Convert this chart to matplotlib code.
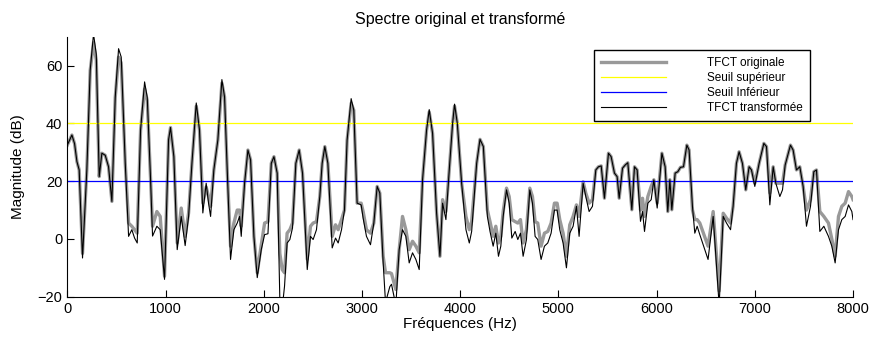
import numpy as np
import matplotlib
matplotlib.use('Agg')
import matplotlib.pyplot as plt

plt.rcParams['font.family'] = ['Liberation Sans', 'DejaVu Sans']

# frequency points (Hz)
freqs = [0, 47, 74, 98, 121, 155, 199, 233, 267, 295, 325, 352, 386, 420, 454, 488, 522, 549,
         590, 624, 657, 685, 712, 746, 787, 814, 848, 868, 912, 946, 990, 1031, 1051, 1085,
         1119, 1160, 1200, 1235, 1269, 1313, 1346, 1380, 1414, 1438, 1459, 1492, 1533, 1574,
         1601, 1628, 1662, 1696, 1730, 1754, 1771, 1805, 1839, 1866, 1900, 1934, 1975, 2009,
         2043, 2077, 2104, 2137, 2164, 2188, 2212, 2238, 2266, 2293, 2327, 2361, 2395, 2443,
         2476, 2503, 2537, 2571, 2595, 2622, 2653, 2697, 2731, 2758, 2792, 2822, 2849, 2890,
         2917, 2951, 2992, 3012, 3046, 3087, 3121, 3155, 3182, 3216, 3240, 3284, 3301, 3345,
         3379, 3413, 3447, 3481, 3515, 3549, 3583, 3617, 3658, 3685, 3719, 3760, 3794, 3821,
         3855, 3889, 3923, 3943, 3971, 4015, 4059, 4093, 4117, 4168, 4202, 4236, 4277, 4304,
         4336, 4363, 4390, 4414, 4438, 4472, 4499, 4526, 4560, 4587, 4614, 4641, 4675, 4709,
         4736, 4763, 4790, 4824, 4858, 4892, 4926, 4960, 4987, 5014, 5048, 5082, 5116, 5150,
         5184, 5211, 5252, 5279, 5313, 5347, 5381, 5408, 5436, 5469, 5510, 5537, 5571, 5598,
         5619, 5653, 5680, 5707, 5748, 5775, 5802, 5836, 5857, 5877, 5911, 5945, 5972, 6006,
         6054, 6087, 6114, 6135, 6155, 6189, 6216, 6243, 6274, 6308, 6331, 6365, 6389, 6413,
         6440, 6524, 6576, 6637, 6678, 6712, 6753, 6779, 6813, 6840, 6874, 6908, 6942, 6966,
         7000, 7044, 7092, 7119, 7153, 7187, 7214, 7255, 7282, 7309, 7363, 7390, 7424, 7458,
         7492, 7526, 7567, 7601, 7628, 7662, 7703, 7750, 7784, 7818, 7852, 7886, 7920, 7954,
         7988, 8000]

# original STFT magnitude (dB)
orig = [32.5, 36, 33, 26.8, 23.9, -5, 23.9, 58.4, 68, 62, 21.6, 29.7, 29, 25, 13, 49, 63, 61,
        26.2, 5.5, 4.4, 3.2, 2, 37.7, 52, 48, 20.5, 4.4, 9.5, 7.8, -12.9, 34.3, 38.6, 28.5,
        -1.4, 10.7, 0.9, 9, 26.2, 46, 37.7, 12.4, 18, 14.7, 11.3, 23.9, 34.3, 54,
        49.2, 23.9, -2.5, 5.5, 10, 10, 4.4, 19.3, 30.8, 27.4, 0.9, -11.7, -2, 5.5,
        6, 26.2, 28.5, 22.8, -5, -10.6, -11.7, 2, 3.2, 5.5, 26.2, 30.8, 22.8, -7,
        4.4, 5.5, 6, 14.7, 26.2, 32, 26.2, 0.9, 4.9, 3.2, 6.7, 10, 34.3, 47,
        44.6, 12.4, 12.4, 9.5, 3.2, 2, 5.5, 18.2, 15.9, -6, -11.7, -11.7, -12, -17.5,
        -3.7, 7.8, 3.2, -3.7, -0.8, -2.5, -4.8, 20.5, 37.7, 44, 36.6, 9, -6, 13.6,
        9.5, 23.9, 40, 46, 40, 19.3, 7.8, 3.2, 6, 26.2, 34.5, 32, 10, 6,
        0.9, 4.4, -1.4, 0.9, 9.5, 17.6, 14.7, 6.7, 6, 5.5, 6.7, -1.4, 3.2, 17.6,
        14.7, 6, 5.5, -2.5, 2, 2.6, 5.5, 12.4, 12.4, 6.7, 2, -6, 4.9, 7.8,
        11.8, 7.8, 19.8, 15.9, 12.4, 13.6, 23.9, 25, 25.3, 14.1, 29.7, 28.5, 22.8, 21.6,
        14.1, 24.5, 25.6, 26.4, 10.1, 25, 23.9, 10, 14.1, 7.8, 14.7, 18.2, 20.5, 12.4,
        29.7, 25, 9.5, 20.5, 10.1, 22.8, 23.3, 24.8, 25, 32.5, 30.8, 10.1, 6.7, 6.7,
        5.5, -2.5, 9.5, -18, 8.9, 7.2, 5.5, 11.3, 26.2, 30.2, 26.2, 17, 25, 23.9,
        19.3, 26.2, 33.1, 32, 15.9, 25, 19.3, 19.3, 19.3, 25.6, 32.5, 30.8, 23.9, 25,
        18.2, 10, 13.6, 23.3, 23.9, 9.5, 7.8, 5.5, 0, -6, 7.8, 11.3, 12.4, 16.4,
        14.7, 13.6]

# transformed STFT magnitude (dB)
transf = [32.5, 36, 33, 26.8, 23.9, -6.6, 23.9, 58.4, 71, 64, 21.6, 29.7, 29, 25, 13, 49, 65.9, 63,
          26.2, 0.9, 3.2, 0.3, -1.4, 37.7, 54.4, 49, 20.5, 1, 4.4, 3.2, -14, 34.3, 38.6, 28.5,
          -3.7, 7.8, -2.3, 7.8, 26.2, 47.1, 37.7, 9, 19.3, 12.4, 7.8, 23.9, 34.3, 55.2,
          49.2, 23.9, -7.1, 3.2, 5.5, 7.8, 0.9, 19.3, 30.8, 27.4, 0.9, -13.4, -3.7, 1.5,
          1.8, 26.2, 28.5, 22.8, -21, -24, -16.3, -1.4, -0.2, 3.8, 26.2, 30.8, 22.8, -10.6,
          0.9, -0.2, 3.2, 14.7, 26.2, 32, 26.2, -3.1, 0.3, -1.4, 3.2, 10, 34.3, 48.6,
          44.6, 12.4, 11.8, 7.2, 0.9, -2, 5.5, 18.2, 15.9, -8.3, -22, -16.5, -15.7, -23,
          -3.7, 3.2, 0.9, -8.3, -4.8, -7.1, -10.6, 20.5, 37.7, 44.8, 36.6, 9, -6, 12.4,
          6.7, 23.9, 40, 46.7, 40, 19.3, 3.2, -1.4, 2.6, 26.2, 34.5, 32, 7.8, 2.6,
          -2.5, 2, -6, -2.5, 7.8, 17, 12.4, 0.3, 2.6, -0.2, 2, -6, -0.2, 17,
          12.4, 0.9, -0.2, -7.1, -2.5, -1.4, 2, 10, 10, 3.2, -1.4, -10, 2, 4.4,
          11.3, 0.9, 19.3, 14.7, 9.5, 11.3, 23.9, 25, 25.3, 14.1, 29.7, 28.5, 22.8, 21.6,
          14.1, 24.5, 25.6, 26.4, 10.1, 25, 23.9, 6.1, 9.5, 2.6, 12.4, 13.6, 20.5, 10.7,
          29.7, 25, 9.5, 20.5, 10.1, 22.8, 23.3, 24.8, 25, 32.5, 30.8, 11.3, 2, 4.4,
          1.5, -7.1, 7.8, -23, 7.8, 5.5, 3.2, 11.3, 26.2, 30.2, 26.2, 17, 25, 23.9,
          18.2, 26.2, 33.1, 32, 11.8, 25, 19.3, 14.7, 17, 25.6, 32.5, 30.8, 23.9, 25,
          18.2, 4.4, 11.3, 23.3, 23.9, 2.6, 4.4, 0.9, -2.5, -8.3, 3.2, 6.7, 7.8, 11.8,
          9.5, 6.7]

seuil_sup = 40
seuil_inf = 20

fig = plt.figure(figsize=(8.74, 3.46), dpi=100)
ax = fig.add_axes([0.077, 0.1425, 0.899, 0.751])

ax.plot(freqs, orig, color=(0.6, 0.6, 0.6), lw=2.4, label='TFCT originale')
ax.axhline(seuil_sup, color='yellow', lw=0.9, label='Seuil supérieur')
ax.axhline(seuil_inf, color='blue', lw=0.9, label='Seuil Inférieur')
ax.plot(freqs, transf, color='black', lw=0.8, label='TFCT transformée')

ax.set_xlim(0, 8000)
ax.set_ylim(-20, 70)
ax.set_yticks([-20, 0, 20, 40, 60])
ax.set_xticks(range(0, 8001, 1000))
ax.spines['top'].set_visible(False)
ax.spines['right'].set_visible(False)
ax.tick_params(direction='in', length=5, labelsize=10.5)

ax.set_title('Spectre original et transformé', fontsize=11.5, pad=9)
ax.set_xlabel('Fréquences (Hz)', fontsize=11, labelpad=1)
ax.set_ylabel('Magnitude (dB)', fontsize=11, labelpad=9)

leg = ax.legend(loc='upper right', bbox_to_anchor=(0.945, 0.95), fontsize=8.5,
                handlelength=5.5, handletextpad=3.5, labelspacing=0.25,
                fancybox=False, framealpha=1, edgecolor='black', borderpad=0.6,
                borderaxespad=0)
leg.get_frame().set_linewidth(1.0)

plt.savefig('out.png', dpi=100)
